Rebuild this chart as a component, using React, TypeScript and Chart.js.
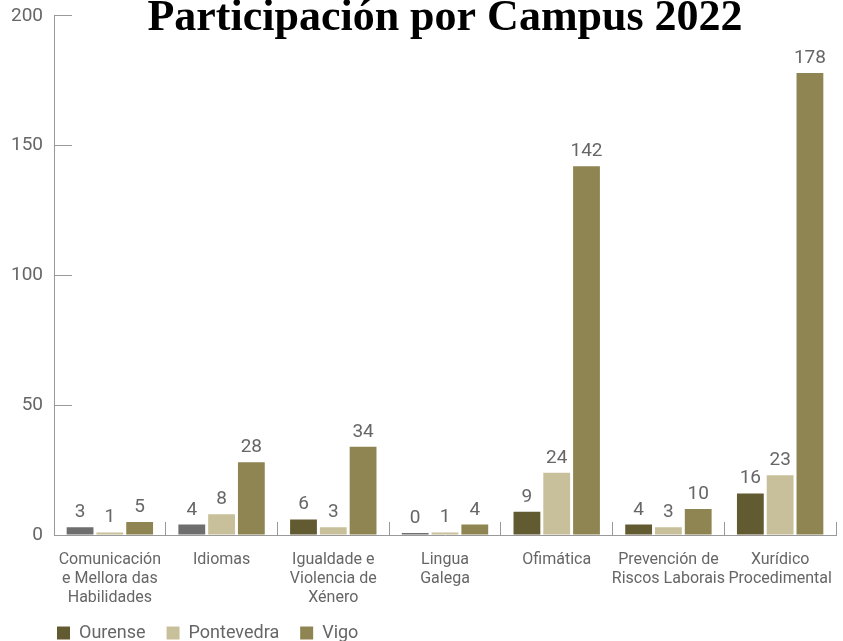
import React, { useEffect, useRef } from 'react';
import { Chart, registerables } from 'chart.js';

Chart.register(...registerables);

const chartTitle = 'Participación por Campus 2022';
const categories: string[][] = [
  ['Comunicación', 'e Mellora das', 'Habilidades'],
  ['Idiomas'],
  ['Igualdade e', 'Violencia de', 'Xénero'],
  ['Lingua', 'Galega'],
  ['Ofimática'],
  ['Prevención de', 'Riscos Laborais'],
  ['Xurídico', 'Procedimental'],
];
const seriesNames = ['Ourense', 'Pontevedra', 'Vigo'];
const ourense = [3, 4, 6, 0, 9, 4, 16];
const pontevedra = [1, 8, 3, 1, 24, 3, 23];
const vigo = [5, 28, 34, 4, 142, 10, 178];
// Ourense bars that appear in grey in the reference
const ourenseGrey = [true, true, false, true, false, false, false];
const yTicks = [0, 50, 100, 150, 200];

const COLORS = {
  ourense: '#625a30',
  ourenseGrey: '#6e6e6e',
  pontevedra: '#c8c09a',
  vigo: '#8e8552',
  text: '#666666',
  axis: '#999999',
};
const seriesColors = [COLORS.ourense, COLORS.pontevedra, COLORS.vigo];

const FONT = 'Roboto';

const valueLabels = {
  id: 'valueLabels',
  afterDatasetsDraw(chart: any) {
    const ctx = chart.ctx;
    ctx.save();
    ctx.font = `19px ${FONT}`;
    ctx.fillStyle = COLORS.text;
    ctx.textAlign = 'center';
    ctx.textBaseline = 'alphabetic';
    chart.data.datasets.forEach((ds: any, i: number) => {
      const meta = chart.getDatasetMeta(i);
      meta.data.forEach((bar: any, j: number) => {
        ctx.fillText(String(ds.data[j]), bar.x, bar.y - 10);
      });
    });
    ctx.restore();
  },
};

const legendShift = {
  id: 'legendShift',
  beforeDraw(chart: any) {
    const lg = chart.legend;
    if (lg) {
      lg.left = chart.chartArea.left + 3 - lg.options.labels.padding;
    }
  },
};

export default function App() {
  const ref = useRef<HTMLCanvasElement>(null);

  useEffect(() => {
    if (!ref.current) return;
    const chart = new Chart(ref.current, {
      type: 'bar',
      data: {
        labels: categories,
        datasets: [
          {
            label: seriesNames[0],
            data: ourense,
            backgroundColor: (c: any) =>
              c.type === 'data' && ourenseGrey[c.dataIndex] ? COLORS.ourenseGrey : COLORS.ourense,
          },
          { label: seriesNames[1], data: pontevedra, backgroundColor: COLORS.pontevedra },
          { label: seriesNames[2], data: vigo, backgroundColor: COLORS.vigo },
        ],
      },
      options: {
        animation: false,
        responsive: false,
        datasets: {
          bar: { categoryPercentage: 0.8, barPercentage: 0.9, minBarLength: 2 },
        },
        layout: { padding: { left: 0, right: 7, top: 0, bottom: 0 } },
        plugins: {
          title: {
            display: true,
            text: chartTitle,
            fullSize: false,
            color: '#000',
            font: { family: "'Liberation Serif', 'Times New Roman', serif", size: 44, weight: 'bold', lineHeight: 1.2 },
            padding: { top: 3, bottom: -29 },
          },
          legend: {
            position: 'bottom',
            align: 'start',
            labels: {
              boxWidth: 13,
              boxHeight: 13,
              padding: 21,
              color: COLORS.text,
              font: { family: FONT, size: 18 },
              generateLabels: (chart: any) => {
                const items = (Chart.defaults.plugins.legend.labels as any).generateLabels(chart);
                items.forEach((it: any, i: number) => {
                  it.fillStyle = seriesColors[i];
                  it.strokeStyle = seriesColors[i];
                  it.lineWidth = 0;
                });
                return items;
              },
            },
          },
          tooltip: { enabled: false },
        },
        scales: {
          x: {
            grid: { drawOnChartArea: false, tickLength: -13, color: COLORS.axis, offset: true },
            border: { color: COLORS.axis },
            ticks: {
              color: COLORS.text,
              padding: 28,
              autoSkip: false,
              maxRotation: 0,
              font: { family: FONT, size: 16 },
            },
            afterFit: (scale: any) => {
              scale.height = 68;
              scale.paddingLeft = 0;
              scale.paddingRight = 0;
            },
          },
          y: {
            min: 0,
            max: 200,
            afterBuildTicks: (scale: any) => {
              scale.ticks = yTicks.map((v) => ({ value: v }));
            },
            grid: { drawOnChartArea: false, tickLength: -18, color: COLORS.axis },
            border: { color: COLORS.axis },
            ticks: {
              color: COLORS.text,
              padding: 29,
              font: { family: FONT, size: 19 },
            },
            afterFit: (scale: any) => {
              scale.width = 54;
              scale.paddingTop = 0;
              scale.paddingBottom = 0;
            },
          },
        },
      },
      plugins: [valueLabels, legendShift],
    } as any);
    return () => chart.destroy();
  }, []);

  return (
    <div
      style={{
        position: 'fixed',
        left: 0,
        top: 0,
        width: 843,
        height: 641,
        overflow: 'hidden',
        background: '#fff',
      }}
    >
      <canvas
        ref={ref}
        width={843}
        height={663}
        style={{ position: 'absolute', left: 0, top: -11, width: 843, height: 663 }}
      />
    </div>
  );
}
